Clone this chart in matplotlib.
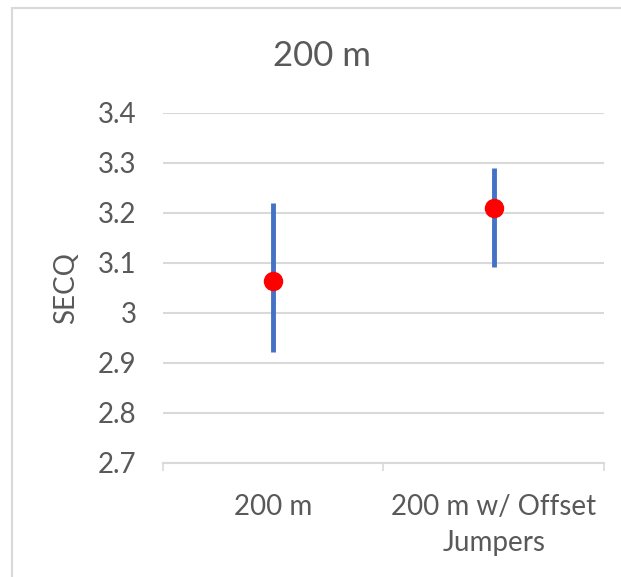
import numpy as np
import matplotlib.pyplot as plt
from matplotlib.patches import Rectangle

categories = ['200 m', '200 m w/ Offset\nJumpers']
secq = [3.064, 3.209]
err_low = [2.921, 3.091]
err_high = [3.219, 3.290]

plt.rcParams['font.family'] = ['Lato', 'DejaVu Sans']
text_color = '#595959'
grid_color = '#d9d9d9'

fig = plt.figure(figsize=(6.21, 5.77), dpi=100)
ax = fig.add_axes([0.2625, 0.1976, 0.71, 0.6066])

# chart border
fig.patches.append(Rectangle((12 / 621, -0.1), 1.2, 1 - 8 / 577 + 0.1,
                             transform=fig.transFigure, fill=False,
                             edgecolor=grid_color, linewidth=1.5))

x = np.arange(len(categories))
secq = np.array(secq)
yerr = [secq - np.array(err_low), np.array(err_high) - secq]
ax.errorbar(x, secq, yerr=yerr, fmt='none', ecolor='#4472c4', elinewidth=3.5,
            capsize=0, zorder=3)
ax.plot(x, secq, 'o', color='#ff0000', markersize=13, zorder=4)

ax.set_xlim(-0.5, 1.5)
ax.set_ylim(2.7, 3.4)
yt = np.round(np.arange(2.7, 3.41, 0.1), 1)
ax.set_yticks(yt)
ax.set_yticklabels([('%g' % v) for v in yt])
ax.set_xticks(x)
ax.set_xticklabels(categories, linespacing=1.5, va='top')
ax.set_xticks([-0.5, 0.5, 1.5], minor=True)
ax.tick_params(axis='x', which='major', length=0, pad=22, labelsize=20,
               labelcolor=text_color)
ax.tick_params(axis='x', which='minor', length=6, width=1.2, color=grid_color)
ax.tick_params(axis='y', length=0, pad=19, labelsize=20, labelcolor=text_color)

ax.grid(axis='y', color=grid_color, linewidth=1.5, zorder=0)
ax.set_axisbelow(True)
for side in ['top', 'right', 'left']:
    ax.spines[side].set_visible(False)
ax.spines['bottom'].set_color(grid_color)
ax.spines['bottom'].set_linewidth(1.5)

ax.set_ylabel('SECQ', fontsize=20, color=text_color)
ax.yaxis.set_label_coords(66 / 621, 0.5, transform=fig.transFigure)
ax.yaxis.label.set_va('center')

# title sits over the whole chart area, not just the axes
fig.text(322 / 621, 1 - 66 / 577, '200 m', fontsize=25, color=text_color,
         ha='center', va='baseline')

plt.savefig('out.png')
